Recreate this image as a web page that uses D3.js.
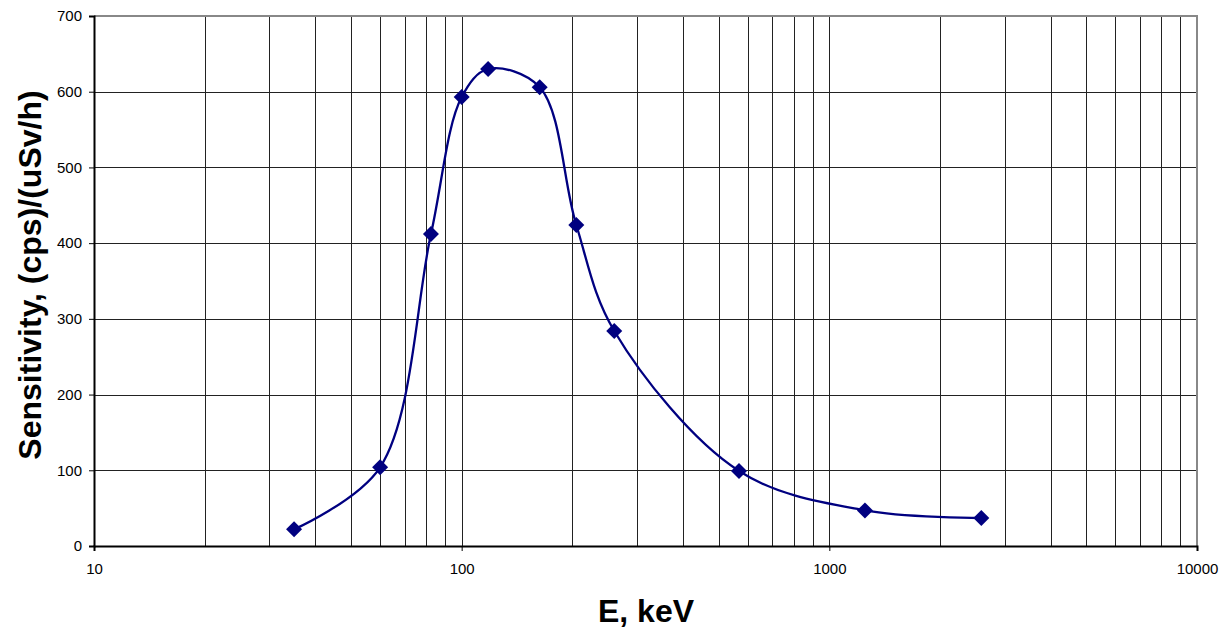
<!DOCTYPE html>
<html>
<head>
  <meta charset="utf-8">
  <title>Sensitivity vs energy</title>
  <style>
    body { margin: 0; background: #fff; }
    text { font-family: Arial, "Liberation Sans", sans-serif; }
  </style>
</head>
<body>
<script src="https://cdnjs.cloudflare.com/ajax/libs/d3/7.8.5/d3.min.js"></script>
<script>
var energy = [35, 60, 82.5, 100, 118, 163, 205, 260, 568, 1250, 2590]; // keV
var sensitivity = [22, 104, 412, 593, 630, 606, 424, 284, 99, 47, 37]; // (cps)/(uSv/h)
var yTicks = [0, 100, 200, 300, 400, 500, 600, 700];
var xTicks = [10, 100, 1000, 10000];

var w = 1231, h = 633;
var m = {left: 94, right: 34, top: 16, bottom: 87};

var svg = d3.select("body").append("svg")
  .attr("width", w)
  .attr("height", h);

var x = d3.scaleLog().domain([10, 10000]).range([m.left, w - m.right]);
var y = d3.scaleLinear().domain([0, 700]).range([h - m.bottom, m.top]);

// minor log gridlines 20..90, 200..900 etc
var minor = [];
[10, 100, 1000].forEach(function(d) {
  for (var k = 2; k <= 9; k++) minor.push(d * k);
});

svg.append("g").selectAll("line")
  .data(minor.concat([100, 1000]))
  .enter().append("line")
  .attr("x1", function(d) { return Math.round(x(d)) + 0.5; })
  .attr("x2", function(d) { return Math.round(x(d)) + 0.5; })
  .attr("y1", y(700)).attr("y2", y(0))
  .attr("stroke", "#222").attr("stroke-width", 1);

svg.append("g").selectAll("line")
  .data(yTicks.slice(1, -1))
  .enter().append("line")
  .attr("x1", x(10)).attr("x2", x(10000))
  .attr("y1", function(d) { return Math.round(y(d)) + 0.5; })
  .attr("y2", function(d) { return Math.round(y(d)) + 0.5; })
  .attr("stroke", "#222").attr("stroke-width", 1);

// plot border (top/right gray)
svg.append("path")
  .attr("d", "M" + x(10) + "," + y(700) + "H" + x(10000) + "V" + y(0))
  .attr("fill", "none").attr("stroke", "#888").attr("stroke-width", 2);

// axes
var yAxis = svg.append("g")
  .attr("transform", "translate(" + x(10) + ",0)")
  .call(d3.axisLeft(y).tickValues(yTicks).tickSize(5).tickPadding(7));
var xAxis = svg.append("g")
  .attr("transform", "translate(0," + y(0) + ")")
  .call(d3.axisBottom(x).tickValues(xTicks).tickFormat(d3.format("d")).tickSize(5).tickPadding(12));

[yAxis, xAxis].forEach(function(a) {
  a.select(".domain").attr("stroke", "#000").attr("stroke-width", 2);
  a.selectAll(".tick line").attr("stroke", "#000");
  a.selectAll(".tick text").attr("font-size", 15).attr("fill", "#000")
    .attr("font-family", "Arial, 'Liberation Sans', sans-serif");
});

// smoothed line
var pts = energy.map(function(e, i) { return [e, sensitivity[i]]; });
var line = d3.line()
  .x(function(d) { return x(d[0]); })
  .y(function(d) { return y(d[1]); })
  .curve(d3.curveCatmullRom.alpha(0.5));

svg.append("path")
  .datum(pts)
  .attr("d", line)
  .attr("fill", "none")
  .attr("stroke", "#000080")
  .attr("stroke-width", 2.3);

// diamond markers
svg.selectAll(".pt")
  .data(pts)
  .enter().append("path")
  .attr("class", "pt")
  .attr("transform", function(d) { return "translate(" + x(d[0]) + "," + y(d[1]) + ")"; })
  .attr("d", "M0,-8L8,0L0,8L-8,0Z")
  .attr("fill", "#000080");

// titles
svg.append("text")
  .attr("x", 646)
  .attr("y", 622)
  .attr("text-anchor", "middle")
  .attr("font-size", 32).attr("font-weight", "bold")
  .text("E, keV");

svg.append("text")
  .attr("transform", "translate(41,275) rotate(-90)")
  .attr("text-anchor", "middle")
  .attr("font-size", 32).attr("font-weight", "bold")
  .text("Sensitivity, (cps)/(uSv/h)");
</script>
</body>
</html>
